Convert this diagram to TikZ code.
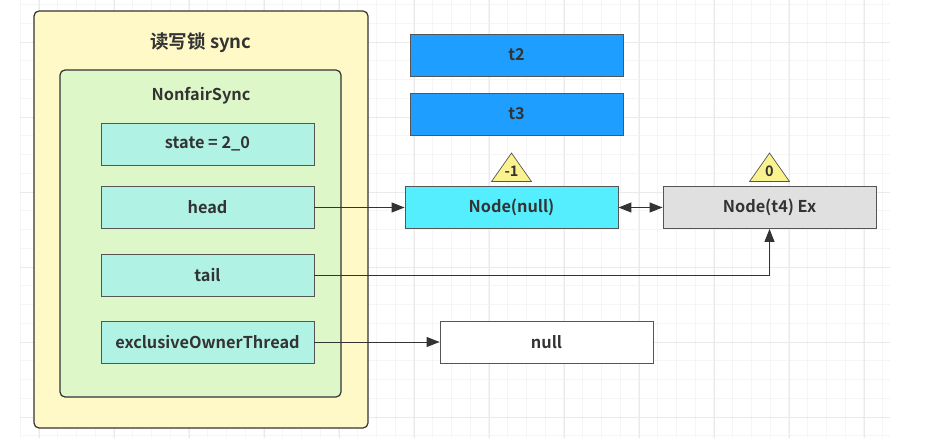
\documentclass[tikz,border=0pt]{standalone}
\usepackage{fontspec}
\setmainfont{Noto Sans CJK SC}[BoldFont={* Bold}]
\usetikzlibrary{arrows.meta,calc}
\definecolor{txt}{HTML}{333333}
\definecolor{outerfill}{HTML}{FFF9C8}
\definecolor{innerfill}{HTML}{DDF7C8}
\definecolor{fieldfill}{HTML}{B0F2E4}
\definecolor{tfill}{HTML}{1E9FFF}
\definecolor{cyanfill}{HTML}{55EEFF}
\definecolor{grayfill}{HTML}{E0E0E0}
\definecolor{trifill}{HTML}{FAF28E}
\definecolor{gridmin}{HTML}{F5F5F5}
\definecolor{gridmaj}{HTML}{EAEAEA}
\definecolor{edge}{HTML}{555555}
\tikzset{
  lbl/.style={font=\bfseries\fontsize{16.3}{18}\selectfont, text=txt},
  box/.style={draw=edge, line width=0.9pt, minimum width=213pt, minimum height=42pt, inner sep=0pt, lbl},
  field/.style={box, fill=fieldfill},
  tip/.tip={Triangle[length=13pt,width=10pt]},
  conn/.style={draw=txt, line width=1pt, -tip},
  tri/.style={draw=edge, line width=0.7pt, fill=trifill},
  tlbl/.style={font=\bfseries\fontsize{14.5}{16}\selectfont, text=txt}
}
\begin{document}
\begin{tikzpicture}[x=1pt,y=-1pt]
\useasboundingbox (0,0) rectangle (936,438);
\fill[white] (0,0) rectangle (936,438);
% grid
\foreach \i in {0,...,46} {
  \draw[gridmin, line width=0.6pt] ({20+\i*18.75},0) -- ({20+\i*18.75},438);
}
\foreach \j in {0,...,24} {
  \draw[gridmin, line width=0.6pt] (20,{-14.25+\j*18.75}) -- (890,{-14.25+\j*18.75});
}
\foreach \i in {0,...,11} {
  \draw[gridmaj, line width=0.8pt] ({39+\i*75},0) -- ({39+\i*75},438);
}
\foreach \j in {0,...,5} {
  \draw[gridmaj, line width=0.8pt] (20,{42+\j*75}) -- (890,{42+\j*75});
}
% outer and inner containers
\node[draw=txt, line width=1.2pt, fill=outerfill, rounded corners=5pt, minimum width=334pt, minimum height=417pt, inner sep=0pt] (outer) at (201,219.5) {};
\node[lbl, font=\bfseries\fontsize{18.5}{20}\selectfont] (title) at (201,43) {读写锁 sync};
\node[draw=txt, line width=1.2pt, fill=innerfill, rounded corners=5pt, minimum width=281pt, minimum height=327pt, inner sep=0pt] (inner) at (200.5,233.5) {};
\node[lbl] (ns) at (201,96) {NonfairSync};
% fields
\node[field] (state) at (207.5,144) {state = 2\_0};
\node[field] (head) at (207.5,207.5) {head};
\node[field] (tail) at (207.5,275) {tail};
\node[field] (eot) at (207.5,342) {exclusiveOwnerThread};
% threads
\node[box, fill=tfill] (t2) at (516.5,55) {t2};
\node[box, fill=tfill] (t3) at (516.5,114) {t3};
% queue nodes
\node[box, fill=cyanfill] (nnull) at (511.5,207.5) {Node(null)};
\node[box, fill=grayfill] (nt4) at (769.5,207.5) {Node(t4) Ex};
\node[box, fill=white] (null) at (546.5,342) {null};
% triangles
\draw[tri] ($(nnull.north)+(-20,-4.5)$) -- ($(nnull.north)+(0,-33)$) -- ($(nnull.north)+(20,-4.5)$) -- cycle;
\node[tlbl] (w1) at ($(nnull.north)+(0,-15)$) {-1};
\draw[tri] ($(nt4.north)+(-20,-4.5)$) -- ($(nt4.north)+(0,-33)$) -- ($(nt4.north)+(20,-4.5)$) -- cycle;
\node[tlbl] (w2) at ($(nt4.north)+(0,-15)$) {0};
% connectors
\draw[conn] (head.east) -- (nnull.west);
\draw[conn, tip-tip] (nnull.east) -- (nt4.west);
\draw[conn] (tail.east) -| (nt4.south);
\draw[conn] (eot.east) -- (null.west);
\end{tikzpicture}
\end{document}
